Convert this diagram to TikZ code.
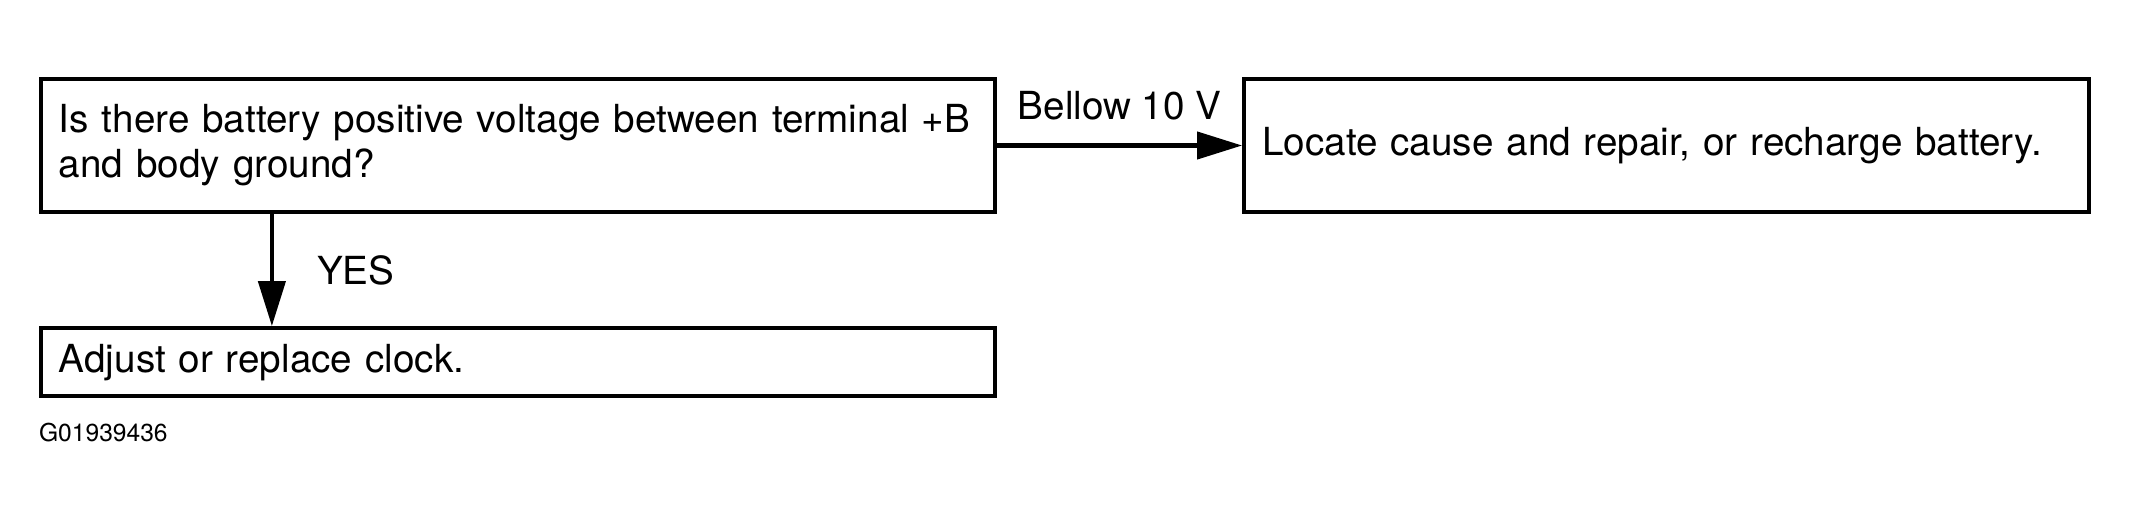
\documentclass[tikz,border=0pt]{standalone}
\usepackage{fontspec}
\setmainfont{TeX Gyre Heros}
\usetikzlibrary{arrows.meta,positioning}
\begin{document}
\begin{tikzpicture}[>={Triangle[length=4.5mm,width=2.7mm]},line width=1.2pt,font=\fontsize{11}{12.8}\selectfont,
		box/.style={draw,rectangle,align=left,inner xsep=1.8mm,inner ysep=0pt,minimum height=13.3mm},
		lbl/.style={inner sep=0pt}]
	\useasboundingbox (0,0) rectangle (21.29,-5.17);
	\path (5.18,-1.455) coordinate (P);
	\node[box,text width=91.8mm] (q) at (P) {Is there battery positive voltage between terminal +B\\and body ground?};
	\node[box,text width=91.8mm,minimum height=6.8mm,below=11.2mm of q] (a) {Adjust or replace clock.};
	\node[box,text width=80.9mm,right=24.5mm of q] (r) {Locate cause and repair, or recharge battery.};
	\draw[->] (q.east) -- node[lbl,above=2.3mm] (lo) {Bellow 10 V} (r.west);
	\draw[->] ([xshift=23.3mm]q.south west) -- node[lbl,right=4.3mm] (yes) {YES} ([xshift=23.3mm]a.north west);
	\node[lbl,anchor=base west,font=\fontsize{7}{8}\selectfont] (code) at (0.37,-4.42) {G01939436};
\end{tikzpicture}
\end{document}
